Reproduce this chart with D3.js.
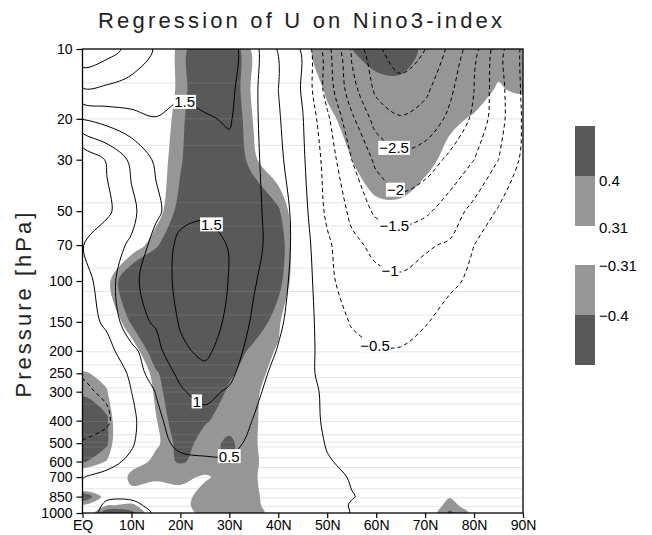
<!DOCTYPE html>
<html>
<head>
<meta charset="utf-8">
<script src="https://cdn.jsdelivr.net/npm/d3@7"></script>
<style>
  body { margin: 0; background: #fff; }
  text { font-family: "Liberation Sans", Arial, sans-serif; }
</style>
</head>
<body>
<svg id="chart" width="652" height="535"></svg>
<script>
// ---- grid coordinates -------------------------------------------------
const latitudes = [0, 5, 10, 15, 20, 25, 30, 35, 40, 45, 50, 55, 60, 65, 70, 75, 80, 85, 90];
const pressureLevels = [1000, 925, 850, 700, 600, 500, 400, 300, 250, 200, 150, 100, 70, 50, 30, 20, 15, 10];

// ---- axis ticks -------------------------------------------------------
const latTicks = [0, 10, 20, 30, 40, 50, 60, 70, 80, 90];
const latTickLabels = ["EQ", "10N", "20N", "30N", "40N", "50N", "60N", "70N", "80N", "90N"];
const pressureTicks = [10, 20, 30, 50, 70, 100, 150, 200, 250, 300, 400, 500, 600, 700, 850, 1000];

// ---- contour / shading levels ----------------------------------------
const lineLevels = [-3.5, -3, -2.5, -2, -1.5, -1, -0.5, 0, 0.5, 1, 1.5, 2, 2.5];
const shadeLevels = [0.31, 0.4];

// ---- regression of zonal-mean U on the Nino3 index (m/s per K) -------
// one row per pressure level (1000 -> 10 hPa), one column per latitude (EQ -> 90N)
const uRegression = [
  [0.2, 0.65, 0.7, 0.45, 0.25, 0.22, 0.25, 0.22, 0.15, 0.08, 0.05, -0.005, -0.02, -0.02, -0.03, -0.03, -0.03, -0.03, -0.03],
  [0.12, 0.6, 0.62, 0.35, 0.25, 0.25, 0.28, 0.25, 0.18, 0.1, 0.05, -0.008, -0.03, -0.03, -0.03, -0.03, -0.03, -0.03, -0.03],
  [0.1, 0.42, 0.42, 0.3, 0.28, 0.3, 0.32, 0.28, 0.2, 0.1, 0.05, 0.005, -0.03, -0.03, -0.03, -0.03, -0.03, -0.03, -0.03],
  [-0.01, 0.1, 0.2, 0.3, 0.35, 0.38, 0.38, 0.3, 0.2, 0.1, 0.04, -0.01, -0.04, -0.04, -0.04, -0.03, -0.03, -0.03, -0.03],
  [-0.25, -0.12, 0.08, 0.25, 0.4, 0.45, 0.45, 0.35, 0.2, 0.1, 0.01, -0.03, -0.05, -0.05, -0.05, -0.05, -0.04, -0.04, -0.04],
  [-0.48, -0.35, -0.05, 0.35, 0.6, 0.62, 0.62, 0.4, 0.2, 0.08, -0.01, -0.05, -0.08, -0.08, -0.07, -0.06, -0.05, -0.05, -0.05],
  [-0.62, -0.56, -0.1, 0.37, 0.8, 0.88, 0.75, 0.48, 0.25, 0.08, -0.03, -0.08, -0.12, -0.12, -0.1, -0.09, -0.08, -0.08, -0.08],
  [-0.55, -0.45, 0.0, 0.52, 0.97, 1.1, 0.95, 0.6, 0.3, 0.1, -0.05, -0.15, -0.2, -0.2, -0.18, -0.15, -0.12, -0.1, -0.08],
  [-0.48, -0.3, 0.07, 0.85, 1.05, 1.35, 1.1, 0.7, 0.35, 0.12, -0.12, -0.25, -0.3, -0.3, -0.25, -0.2, -0.18, -0.15, -0.1],
  [-0.35, -0.18, 0.37, 0.85, 1.4, 1.62, 1.22, 0.82, 0.47, 0.15, -0.15, -0.35, -0.46, -0.47, -0.4, -0.3, -0.25, -0.2, -0.1],
  [-0.25, 0.1, 0.85, 1.05, 1.55, 1.75, 1.4, 0.92, 0.59, 0.18, -0.2, -0.54, -0.68, -0.68, -0.52, -0.4, -0.35, -0.25, -0.15],
  [-0.23, 0.3, 0.86, 1.3, 1.6, 1.85, 1.48, 1.05, 0.64, 0.3, -0.45, -0.6, -0.9, -0.95, -0.85, -0.55, -0.45, -0.3, -0.15],
  [-0.02, 0.35, 0.55, 1.22, 1.6, 1.65, 1.48, 1.12, 0.8, 0.2, -0.41, -0.9, -1.1, -1.15, -1.05, -0.95, -0.5, -0.3, -0.2],
  [-0.35, -0.1, 0.39, 0.88, 1.38, 1.44, 1.38, 1.1, 0.8, 0.16, -0.6, -1.1, -1.6, -1.78, -1.6, -1.25, -0.85, -0.45, -0.3],
  [-0.45, 0.05, 0.6, 1.08, 1.3, 1.35, 1.35, 1.12, 0.62, 0.07, -0.7, -1.5, -2.1, -2.36, -2.25, -1.9, -1.5, -1.0, -0.4],
  [1.02, 1.2, 1.35, 1.48, 1.35, 1.45, 1.55, 1.1, 0.55, 0.02, -0.9, -1.9, -2.7, -2.96, -2.8, -2.4, -1.9, -1.2, -0.45],
  [1.95, 1.9, 1.8, 1.75, 1.6, 1.68, 1.62, 1.1, 0.5, -0.05, -1.2, -2.3, -3.1, -3.3, -3.1, -2.6, -2.0, -1.2, -0.42],
  [2.95, 2.7, 2.35, 1.95, 1.8, 1.75, 1.7, 1.15, 0.45, -0.06, -1.3, -2.6, -3.4, -3.8, -3.5, -2.9, -2.2, -1.2, -0.4]
];

// ---- correlation with the Nino3 index (shaded) ------------------------
const corrNino3 = [
  [0.15, 0.48, 0.43, 0.2, 0.26, 0.34, 0.36, 0.35, 0.26, 0.05, 0, 0, 0, 0.05, 0.2, 0.42, 0.28, 0, 0],
  [0.3, 0.3, 0.33, 0.22, 0.28, 0.35, 0.36, 0.34, 0.24, 0.05, 0, 0, 0, 0.05, 0.18, 0.36, 0.22, 0, 0],
  [0.5, 0.25, 0.22, 0.2, 0.28, 0.34, 0.36, 0.34, 0.22, 0.05, 0, 0, 0, 0.05, 0.15, 0.3, 0.15, 0, 0],
  [-0.15, -0.05, 0.38, 0.34, 0.33, 0.3, 0.34, 0.33, 0.2, 0.05, 0, 0, 0, 0, 0.05, 0.1, 0.05, 0, 0],
  [-0.42, -0.3, 0.2, 0.36, 0.41, 0.37, 0.41, 0.34, 0.2, 0.08, 0, 0, 0, 0, 0, 0, 0, 0, 0],
  [-0.5, -0.42, 0.08, 0.28, 0.45, 0.36, 0.42, 0.33, 0.2, 0.08, 0, 0, 0, 0, 0, 0, 0, 0, 0],
  [-0.5, -0.42, 0.05, 0.3, 0.5, 0.41, 0.36, 0.33, 0.22, 0.08, 0, 0, 0, 0, 0, 0, 0, 0, 0],
  [-0.38, -0.32, 0.08, 0.34, 0.55, 0.5, 0.38, 0.33, 0.25, 0.1, 0, 0, 0, 0, 0, 0, 0, 0, 0],
  [-0.33, -0.26, 0.1, 0.38, 0.55, 0.55, 0.42, 0.34, 0.28, 0.1, 0, 0, 0, 0, 0, 0, 0, 0, 0],
  [-0.1, 0.05, 0.22, 0.5, 0.58, 0.6, 0.5, 0.36, 0.3, 0.1, 0, 0, -0.03, -0.03, -0.03, -0.03, -0.03, -0.03, -0.03],
  [0, 0.15, 0.42, 0.55, 0.6, 0.62, 0.6, 0.5, 0.33, 0.12, 0, -0.03, -0.05, -0.05, -0.05, -0.05, -0.05, -0.05, -0.05],
  [0.05, 0.27, 0.55, 0.6, 0.62, 0.65, 0.62, 0.58, 0.45, 0.15, 0, -0.05, -0.08, -0.08, -0.08, -0.06, -0.05, -0.05, -0.05],
  [0.05, 0.1, 0.22, 0.38, 0.55, 0.6, 0.6, 0.58, 0.5, 0.12, -0.05, -0.1, -0.12, -0.12, -0.1, -0.1, -0.08, -0.05, -0.05],
  [0.05, 0.05, 0.1, 0.25, 0.45, 0.6, 0.6, 0.55, 0.42, 0.15, -0.1, -0.2, -0.29, -0.29, -0.25, -0.22, -0.2, -0.15, -0.1],
  [0.05, 0.05, 0.1, 0.24, 0.38, 0.6, 0.55, 0.33, 0.2, -0.05, -0.2, -0.31, -0.36, -0.37, -0.34, -0.28, -0.22, -0.18, -0.15],
  [0.05, 0.05, 0.1, 0.22, 0.36, 0.58, 0.52, 0.3, 0.05, -0.1, -0.28, -0.36, -0.38, -0.38, -0.36, -0.33, -0.3, -0.25, -0.2],
  [0.05, 0.05, 0.08, 0.2, 0.34, 0.55, 0.5, 0.28, 0.05, -0.2, -0.33, -0.36, -0.36, -0.37, -0.37, -0.36, -0.35, -0.3, -0.33],
  [0.05, 0.05, 0.08, 0.2, 0.34, 0.55, 0.5, 0.28, 0, -0.28, -0.36, -0.4, -0.45, -0.45, -0.38, -0.36, -0.36, -0.35, -0.33]
];

// ---- contour labels: value and the spot (lat, hPa) where it is printed --
const labelValues = [1.5, 1.5, 1, 0.5, -2.5, -2, -1.5, -1, -0.5];
const labelLats   = [20.9, 25.8, 22.6, 29.7, 63.4, 64.0, 63.6, 62.6, 59.9];
const labelPres   = [16.8, 59, 346, 546, 27.2, 40.5, 58.5, 93, 187];

// ---- faint lines at the analysis levels --------------------------------
const analysisLevels = [14, 20, 26, 46, 58, 88, 111, 140, 202, 230, 261, 289, 301, 339, 403, 460, 495, 519, 578, 637, 705, 786, 860, 936];

// =======================================================================
const svg = d3.select("#chart");
const plot = { left: 82.5, right: 523, top: 49, bottom: 513 };

const x = d3.scaleLinear().domain([0, 90]).range([plot.left, plot.right]);
const y = d3.scaleLog().domain([1000, 10]).range([plot.bottom, plot.top]);

const nx = latitudes.length, ny = pressureLevels.length;
// grid index -> pixel (piecewise linear in latitude and in log-pressure)
const colToX = d3.scaleLinear().domain(d3.range(nx)).range(latitudes.map(x));
const rowToY = d3.scaleLinear().domain(d3.range(ny)).range(pressureLevels.map(y));
const project = ([cx, cy]) => [colToX(cx - 0.5), rowToY(cy - 0.5)];

const contourGen = d3.contours().size([nx, ny]).smooth(true);
const ringLine = d3.line().curve(d3.curveCatmullRomClosed.alpha(0.5));
function pathOf(geom) {
  return geom.coordinates
    .map(poly => poly.map(ring => ringLine(ring.slice(0, -1).map(project))).join(""))
    .join("");
}

const uValues = uRegression.flat();
const rValues = corrNino3.flat();
const rNegValues = rValues.map(v => -v);

svg.append("defs").append("clipPath").attr("id", "plotClip")
  .append("rect")
  .attr("x", plot.left).attr("y", plot.top)
  .attr("width", plot.right - plot.left).attr("height", plot.bottom - plot.top);

// ---- shading of significant correlation --------------------------------
const shadeFill = d3.scaleOrdinal().domain(shadeLevels).range(["#969696", "#595959"]);
const gShade = svg.append("g").attr("clip-path", "url(#plotClip)");
shadeLevels.forEach(t => {
  [rValues, rNegValues].forEach(vals => {
    gShade.append("path")
      .attr("d", pathOf(contourGen.contour(vals, t)))
      .attr("fill", shadeFill(t))
      .attr("fill-rule", "evenodd");
  });
});

// ---- faint level lines --------------------------------------------------
svg.append("g").attr("clip-path", "url(#plotClip)")
  .selectAll("line").data(analysisLevels).join("line")
  .attr("x1", plot.left).attr("x2", plot.right)
  .attr("y1", d => y(d)).attr("y2", d => y(d))
  .attr("stroke", "#a0a0a0").attr("stroke-opacity", 0.28).attr("stroke-width", 1);

// ---- regression contour lines -------------------------------------------
const gLines = svg.append("g").attr("clip-path", "url(#plotClip)");
const linePaths = new Map();
lineLevels.forEach(t => {
  const p = gLines.append("path")
    .attr("d", pathOf(contourGen.contour(uValues, t)))
    .attr("fill", "none")
    .attr("stroke", "#000")
    .attr("stroke-width", 1)
    .attr("stroke-dasharray", t < 0 ? "4,3" : null);
  linePaths.set(t, p.node());
});

// ---- contour labels, snapped onto their own line -----------------------
const gLabels = svg.append("g");
const fmtLabel = v => String(v).replace("-", "\u2212");
labelValues.forEach((v, i) => {
  const node = linePaths.get(v);
  const target = [x(labelLats[i]), y(labelPres[i])];
  let best = target, bestD = Infinity;
  if (node) {
    const len = node.getTotalLength();
    for (let s = 0; s <= len; s += 1) {
      const pt = node.getPointAtLength(s);
      if (pt.x < plot.left + 4 || pt.x > plot.right - 4 || pt.y < plot.top + 4 || pt.y > plot.bottom - 4) continue;
      const d = (pt.x - target[0]) ** 2 + (pt.y - target[1]) ** 2;
      if (d < bestD) { bestD = d; best = [pt.x, pt.y]; }
    }
  }
  const g = gLabels.append("g");
  const txt = g.append("text")
    .attr("x", best[0]).attr("y", best[1])
    .attr("text-anchor", "middle").attr("dy", "0.36em")
    .attr("font-size", 15).attr("fill", "#000")
    .text(fmtLabel(v));
  const bb = txt.node().getBBox();
  g.insert("rect", "text")
    .attr("x", bb.x - 1).attr("y", best[1] - 7)
    .attr("width", bb.width + 2).attr("height", 14)
    .attr("fill", "#fff");
});

// ---- axes --------------------------------------------------------------
const yAxis = d3.axisLeft(y).tickValues(pressureTicks).tickFormat(d => d).tickSize(6).tickPadding(4);
const xAxis = d3.axisBottom(x).tickValues(latTicks).tickFormat((d, i) => latTickLabels[i]).tickSize(5).tickPadding(2);

const gy = svg.append("g").attr("transform", `translate(${plot.left},0)`).call(yAxis);
const gx = svg.append("g").attr("transform", `translate(0,${plot.bottom})`).call(xAxis);
[gy, gx].forEach(g => {
  g.select(".domain").remove();
  g.selectAll(".tick line").attr("stroke", "#000").attr("stroke-width", 1.2);
  g.selectAll(".tick text").attr("font-size", 14).attr("font-family", "Liberation Sans, Arial, sans-serif").attr("fill", "#000");
});

svg.append("rect")
  .attr("x", plot.left).attr("y", plot.top)
  .attr("width", plot.right - plot.left).attr("height", plot.bottom - plot.top)
  .attr("fill", "none").attr("stroke", "#000").attr("stroke-width", 1.3);

// ---- titles --------------------------------------------------------------
svg.append("text")
  .attr("x", 300).attr("y", 28)
  .attr("text-anchor", "middle")
  .attr("font-size", 22)
  .attr("font-family", "Lato, 'Liberation Sans', sans-serif")
  .attr("font-weight", 300)
  .attr("textLength", 404).attr("lengthAdjust", "spacing")
  .attr("fill", "#222")
  .text("Regression of U on Nino3-index");

svg.append("text")
  .attr("transform", "translate(31,305) rotate(-90)")
  .attr("text-anchor", "middle")
  .attr("font-size", 22)
  .attr("font-family", "Lato, 'Liberation Sans', sans-serif")
  .attr("font-weight", 300)
  .attr("textLength", 185).attr("lengthAdjust", "spacing")
  .attr("fill", "#222")
  .text("Pressure [hPa]");

// ---- colour key ----------------------------------------------------------
const key = svg.append("g");
const keyBlocks = [
  { y0: 126, fill: shadeFill(0.4) },
  { y0: 176, fill: shadeFill(0.31) },
  { y0: 265, fill: shadeFill(0.31) },
  { y0: 315, fill: shadeFill(0.4) }
];
key.selectAll("rect").data(keyBlocks).join("rect")
  .attr("x", 575).attr("y", d => d.y0).attr("width", 20).attr("height", 50)
  .attr("fill", d => d.fill);
const keyLabels = [
  { text: fmtLabel(shadeLevels[1]), y: 181 },
  { text: fmtLabel(shadeLevels[0]), y: 228 },
  { text: fmtLabel(-shadeLevels[0]), y: 266 },
  { text: fmtLabel(-shadeLevels[1]), y: 316 }
];
key.selectAll("text").data(keyLabels).join("text")
  .attr("x", 599).attr("y", d => d.y).attr("dy", "0.36em")
  .attr("font-size", 15).attr("fill", "#000")
  .text(d => d.text);
</script>
</body>
</html>
